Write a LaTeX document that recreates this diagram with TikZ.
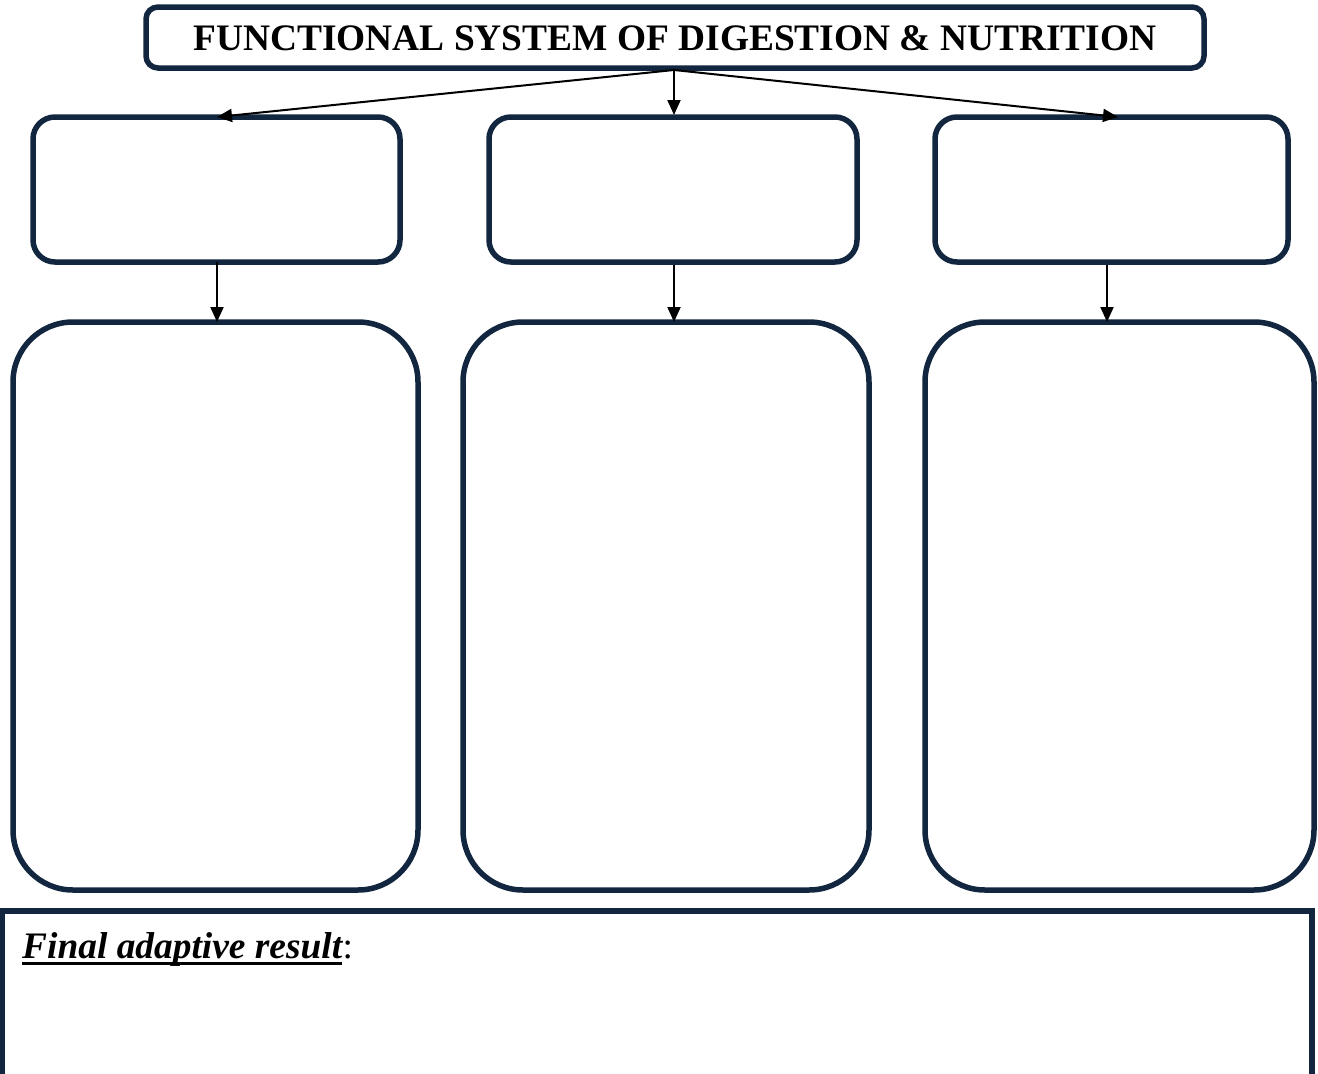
\documentclass[tikz,border=0pt]{standalone}
\usepackage{fontspec}
\setmainfont{Liberation Serif}
\usetikzlibrary{arrows.meta}
\definecolor{navy}{HTML}{12263F}
\tikzset{
  frame/.style={draw=navy, line width=5.5pt, fill=white, inner sep=0pt, outer sep=0pt},
  link/.style={draw=black, line width=2pt, -{Triangle[length=15pt,width=13pt]}}
}
\begin{document}
\begin{tikzpicture}[x=1pt,y=-1pt]
\useasboundingbox (0,0) rectangle (1318,1074);
% title
\node[frame, rounded corners=12pt, minimum width=1058pt, minimum height=61pt] (title) at (675,37.5) {};
\node[font=\bfseries\fontsize{37.4}{42}\selectfont] at (675,38) {FUNCTIONAL SYSTEM OF DIGESTION \& NUTRITION};
% upper boxes
\node[frame, rounded corners=22pt, minimum width=367pt, minimum height=145pt] (a1) at (216.5,189.5) {};
\node[frame, rounded corners=22pt, minimum width=368pt, minimum height=145pt] (b1) at (673,189.5) {};
\node[frame, rounded corners=22pt, minimum width=353pt, minimum height=145pt] (c1) at (1111.5,189.5) {};
% lower boxes
\node[frame, rounded corners=60pt, minimum width=405pt, minimum height=568pt] (a2) at (215.5,606) {};
\node[frame, rounded corners=60pt, minimum width=406pt, minimum height=568pt] (b2) at (666,606) {};
\node[frame, rounded corners=60pt, minimum width=389pt, minimum height=568pt] (c2) at (1119.5,606) {};
% result box
\node[frame, minimum width=1310pt, minimum height=200pt, anchor=north west] (res) at (2,911) {};
\node[anchor=base west, inner sep=0pt, font=\bfseries\itshape\fontsize{37.4}{42}\selectfont] (restext) at (22,958)
  {Final adaptive result};
\node[anchor=base west, inner sep=0pt, font=\fontsize{37.4}{42}\selectfont] (colon) at (restext.base east) {:};
\draw[line width=3pt] ([yshift=-5pt]restext.base west) -- ([yshift=-5pt]restext.base east);
% connectors
\coordinate (hub) at (674,70);
\draw[link] (hub) -- (217,117);
\draw[link] (hub) -- (674,115);
\draw[link] (hub) -- (1118,117);
\draw[link] (217,262) -- (a2.north -| 217,0);
\draw[link] (674,265) -- (674,322);
\draw[link] (1107,265) -- (1107,322);
\end{tikzpicture}
\end{document}
